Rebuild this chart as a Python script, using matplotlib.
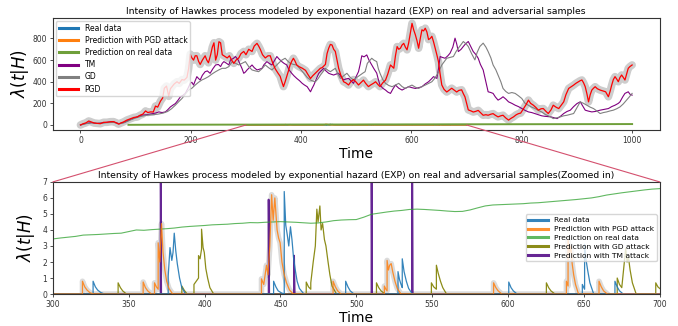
import matplotlib
matplotlib.use("Agg")
import matplotlib.pyplot as plt
from matplotlib.patches import ConnectionPatch

# ---------------- data: top panel (full sequence) ----------------
pgd_t = [0, 5, 10, 15, 20, 25, 30, 36, 42, 48, 54, 60, 65, 69, 74, 78, 84, 91, 97, 103, 108, 113, 118, 122, 127,
         132, 136, 140, 145, 149, 152, 156, 160, 163, 166, 170, 175, 179, 184, 188, 193, 196, 199, 202, 205, 208,
         211, 214, 217, 221, 226, 229, 232, 236, 239, 242, 245, 248, 251, 254, 257, 260, 263, 266, 270, 274, 278,
         282, 287, 291, 296, 300, 305, 308, 311, 315, 320, 323, 326, 330, 335, 340, 344, 348, 353, 358, 362, 365,
         368, 371, 374, 377, 380, 383, 386, 389, 392, 396, 402, 405, 408, 412, 417, 421, 426, 430, 435, 438, 441,
         444, 447, 450, 453, 456, 459, 462, 465, 468, 472, 477, 481, 486, 490, 495, 500, 504, 508, 513, 517, 522,
         526, 531, 535, 540, 543, 548, 553, 557, 562, 565, 568, 571, 574, 577, 580, 583, 586, 589, 592, 595, 598,
         601, 604, 607, 610, 613, 616, 619, 622, 625, 628, 631, 634, 637, 640, 643, 646, 649, 652, 655, 659, 664,
         668, 673, 677, 682, 686, 691, 694, 697, 700, 703, 708, 712, 716, 721, 725, 730, 735, 739, 744, 748, 752,
         757, 762, 766, 771, 776, 780, 785, 790, 794, 798, 803, 808, 812, 816, 821, 826, 830, 835, 839, 844, 848,
         853, 857, 862, 867, 871, 876, 880, 885, 890, 894, 898, 903, 906, 909, 912, 915, 918, 921, 924, 927, 930,
         933, 937, 942, 947, 952, 957, 960, 963, 966, 969, 972, 975, 978, 981, 984, 987, 990, 993, 996, 1000]
pgd_v = [0, 12, 20, 37, 28, 18, 15, 12, 25, 25, 30, 31, 20, 8, 20, 28, 45, 59, 70, 74, 90, 100, 130, 115, 121,
         120, 175, 165, 220, 250, 340, 360, 265, 335, 354, 380, 400, 385, 420, 415, 440, 520, 655, 620, 600, 640,
         640, 590, 560, 600, 640, 600, 575, 650, 720, 760, 600, 650, 770, 760, 650, 640, 630, 620, 640, 600, 570,
         600, 620, 660, 680, 650, 700, 690, 680, 730, 755, 730, 700, 650, 620, 640, 640, 580, 520, 480, 450, 400,
         355, 400, 450, 500, 555, 590, 617, 590, 555, 540, 525, 515, 505, 470, 430, 455, 480, 500, 525, 530, 545,
         560, 660, 710, 745, 740, 700, 680, 600, 525, 460, 400, 390, 370, 400, 420, 395, 370, 390, 415, 385, 355,
         370, 385, 400, 370, 355, 390, 415, 470, 555, 540, 525, 640, 725, 700, 710, 740, 755, 720, 695, 760, 850,
         940, 880, 835, 780, 710, 800, 880, 870, 895, 860, 790, 800, 820, 770, 710, 650, 585, 470, 370, 330, 305,
         320, 340, 325, 305, 320, 325, 290, 260, 200, 140, 130, 120, 125, 135, 115, 90, 95, 90, 100, 105, 90,
         75, 85, 90, 65, 45, 60, 75, 95, 105, 110, 150, 190, 230, 200, 183, 160, 137, 150, 152, 125, 106,
         140, 183, 165, 152, 180, 214, 280, 338, 355, 369, 385, 400, 410, 416, 390, 354, 290, 214, 280, 323, 340,
         354, 335, 323, 315, 307, 261, 310, 369, 420, 447, 425, 400, 440, 462, 440, 416, 470, 524, 540, 555]

tm_t = [0, 10, 20, 30, 40, 50, 60, 70, 80, 90, 100, 110, 120, 130, 136, 142, 148, 154, 158, 163, 168, 172, 177,
        181, 186, 190, 195, 199, 202, 205, 208, 211, 214, 217, 221, 226, 230, 235, 240, 245, 250, 254, 257, 260,
        265, 269, 272, 277, 281, 286, 290, 293, 296, 299, 302, 306, 311, 315, 320, 324, 329, 333, 338, 342, 347,
        351, 356, 360, 365, 369, 374, 378, 383, 387, 392, 397, 402, 406, 411, 414, 417, 420, 423, 427, 432, 436,
        441, 445, 450, 454, 459, 463, 468, 472, 477, 481, 486, 490, 495, 499, 504, 507, 510, 514, 519, 523, 528,
        532, 537, 540, 543, 548, 553, 557, 562, 566, 571, 577, 583, 589, 595, 601, 607, 613, 619, 625, 631, 636,
        640, 646, 649, 652, 656, 661, 666, 670, 675, 679, 682, 685, 690, 694, 698, 703, 708, 712, 717, 721, 725,
        730, 734, 739, 744, 748, 752, 757, 762, 766, 771, 776, 782, 788, 794, 800, 806, 812, 818, 824, 830, 836,
        842, 848, 853, 858, 864, 870, 876, 882, 888, 894, 900, 906, 910, 915, 921, 927, 933, 942, 950, 957, 963,
        969, 975, 978, 983, 987, 990, 993, 996, 1000]
tm_v = [0, 15, 22, 14, 20, 26, 28, 12, 25, 50, 70, 90, 95, 105, 110, 121, 115, 121, 140, 167, 185, 198, 230,
        260, 275, 292, 340, 385, 395, 369, 410, 447, 430, 416, 460, 493, 500, 478, 520, 555, 560, 540, 570, 586,
        570, 555, 602, 615, 633, 600, 555, 520, 478, 490, 509, 530, 555, 530, 509, 515, 524, 560, 586, 570, 555,
        590, 633, 610, 586, 570, 555, 510, 478, 455, 431, 410, 385, 370, 354, 330, 307, 340, 369, 420, 478, 500,
        524, 500, 478, 470, 462, 470, 478, 450, 416, 425, 431, 410, 385, 440, 493, 560, 640, 630, 648, 600, 555,
        520, 480, 420, 369, 340, 323, 305, 292, 330, 369, 340, 323, 340, 354, 345, 338, 345, 354, 380, 400, 425,
        447, 431, 520, 633, 625, 617, 640, 664, 720, 803, 750, 679, 700, 726, 750, 772, 720, 679, 650, 617, 560,
        509, 420, 307, 300, 292, 260, 230, 245, 261, 240, 214, 200, 183, 170, 152, 135, 121, 115, 105, 95, 85,
        80, 78, 75, 68, 59, 80, 106, 125, 137, 170, 198, 214, 180, 137, 128, 121, 125, 137, 145, 152, 170,
        183, 200, 214, 260, 292, 300, 307, 285, 276]

gd_t = [0, 10, 20, 30, 40, 50, 60, 70, 80, 90, 100, 110, 120, 130, 140, 150, 158, 165, 172, 178, 184, 190, 196,
        202, 208, 214, 220, 226, 232, 238, 245, 251, 257, 263, 269, 275, 281, 287, 293, 299, 305, 311, 317, 323,
        329, 335, 341, 347, 353, 359, 365, 371, 376, 380, 386, 392, 398, 405, 411, 417, 422, 426, 431, 435, 440,
        444, 449, 453, 458, 462, 467, 471, 477, 483, 489, 495, 501, 507, 512, 516, 520, 524, 528, 532, 537, 540,
        543, 548, 553, 559, 565, 571, 577, 583, 589, 595, 601, 607, 613, 619, 625, 631, 637, 642, 646, 651, 655,
        660, 664, 670, 676, 681, 685, 690, 694, 699, 703, 709, 715, 719, 724, 730, 735, 739, 744, 748, 753, 757,
        762, 766, 771, 776, 782, 788, 794, 800, 806, 812, 818, 824, 830, 836, 842, 848, 853, 857, 864, 870, 876,
        882, 888, 894, 900, 906, 912, 918, 924, 930, 936, 942, 948, 954, 960, 966, 972, 978, 984, 990, 995, 1000]
gd_v = [0, 12, 20, 15, 18, 22, 25, 10, 22, 45, 65, 80, 90, 95, 100, 110, 125, 150, 183, 215, 245, 285, 323,
        340, 369, 395, 416, 430, 447, 470, 493, 510, 524, 524, 540, 586, 570, 555, 570, 586, 540, 509, 500, 493,
        520, 555, 530, 509, 540, 571, 600, 617, 590, 571, 560, 555, 520, 478, 440, 416, 405, 400, 430, 462, 495,
        524, 505, 493, 510, 524, 470, 431, 455, 478, 440, 416, 440, 462, 480, 493, 570, 594, 617, 600, 586, 520,
        478, 420, 385, 365, 354, 370, 385, 355, 338, 355, 369, 350, 338, 355, 369, 385, 400, 430, 462, 510, 555,
        590, 617, 625, 633, 680, 710, 745, 772, 750, 726, 660, 602, 670, 726, 757, 720, 679, 620, 555, 510, 462,
        400, 338, 310, 292, 300, 292, 270, 245, 200, 183, 165, 152, 135, 121, 100, 85, 72, 59, 68, 75, 85,
        90, 98, 106, 160, 214, 200, 183, 165, 152, 130, 106, 115, 121, 130, 137, 150, 167, 195, 230, 260, 292]

# ---------------- data: zoomed panel (also drawn, flat near 0, on top) ----------------
real_t = [300, 326.5, 326.5, 328, 329.5, 331.5, 334,
          376, 376, 377.2, 378.4, 379.2, 380, 381, 382, 383.5, 385, 387.5,
          445.5, 445.5, 447, 448.5, 450.5, 452.5, 452.5, 453.5, 454.5, 455.5, 456.6, 457.6, 458.6, 459.6, 461, 462.5, 465.5,
          493, 493, 494.5, 496, 498.5,
          527.5, 527.5, 528.5, 529.5, 530.3, 530.3, 531.5, 533, 534.5, 537,
          600.5, 600.5, 602, 603.5, 606,
          649, 649, 650.5, 650.5, 651.5, 652.5, 654, 656.5,
          670.5, 670.5, 672, 673.5, 676, 700]
real_v = [0, 0, 0.8, 0.45, 0.25, 0.1, 0,
          0, 1.1, 2.9, 2.1, 2.6, 3.8, 2.7, 1.9, 1.0, 0.4, 0,
          0, 0.8, 0.45, 0.2, 0.08, 0, 6.4, 4.3, 3.7, 3.0, 4.2, 3.4, 2.3, 1.6, 0.8, 0.35, 0,
          0, 0.8, 0.45, 0.2, 0,
          0, 1.4, 0.9, 0.6, 0.4, 2.2, 1.4, 0.8, 0.35, 0,
          0, 0.75, 0.4, 0.2, 0,
          0, 0.6, 0.3, 3.1, 2.1, 1.5, 0.7, 0,
          0, 0.8, 0.45, 0.2, 0, 0]

pgdp_t = [300, 319.5, 319.5, 321, 322.5, 324.5, 327,
          359.5, 359.5, 361, 362.5, 365,
          367, 367, 368.2, 369.4, 369.4, 370.5, 371.6, 372.6, 373.8, 375, 376.5, 379,
          437.5, 437.5, 439, 440.8, 441.8, 443, 444.2, 445.2, 446.3, 447.8, 448.8, 449.8, 451, 452.5, 454, 456, 458.5,
          484.7, 484.7, 486.2, 487.7, 490,
          518.5, 518.5, 519.5, 520.3, 520.3, 521.2, 522, 523, 524, 525.5, 527, 529.5,
          590.5, 590.5, 592, 593.5, 596,
          638.5, 638.5, 639.6, 639.6, 640.7, 641.5, 642.3, 643.3, 644.5, 646.5,
          660, 660, 661.5, 663, 665.5, 700]
pgdp_v = [0, 0, 0.8, 0.45, 0.25, 0.08, 0,
          0, 0.75, 0.4, 0.2, 0,
          0, 0.7, 0.45, 0.3, 3.2, 2.0, 4.4, 2.6, 1.5, 0.8, 0.35, 0,
          0, 0.95, 0.6, 1.8, 1.2, 3.0, 6.2, 4.6, 6.0, 4.0, 3.5, 3.2, 2.0, 1.2, 0.7, 0.25, 0,
          0, 0.8, 0.45, 0.2, 0,
          0, 0.5, 0.3, 0.2, 2.1, 1.5, 1.8, 1.9, 1.4, 0.8, 0.35, 0,
          0, 0.7, 0.4, 0.2, 0,
          0, 0.8, 0.5, 3.4, 2.6, 3.0, 1.9, 1.2, 0.6, 0,
          0, 0.8, 0.45, 0.2, 0, 0]

gdp_t = [300, 343, 343, 344.5, 346, 348.5,
         385, 385, 386.5, 388.5,
         393, 393, 394.5, 396, 396, 397, 398, 398, 399, 399.8, 400.8, 402, 403.5, 406,
         467, 467, 468.5, 470, 470, 471.6, 473, 474, 474.8, 476, 476.8, 477.8, 479, 480, 481.4, 482.6, 484, 487,
         513.3, 513.3, 514.8, 516.3, 519,
         549.5, 549.5, 551, 552.8, 552.8, 554, 555.5, 557, 559.5,
         625.3, 625.3, 626.8, 628.3, 631,
         672, 672, 673.5, 675, 677.6, 678.5, 679.4, 680.5, 682, 684.5,
         697.4, 697.4, 698.8, 700]
gdp_v = [0, 0, 0.7, 0.4, 0.2, 0,
         0, 0.5, 0.25, 0,
         0, 0.6, 0.8, 1.0, 2.4, 2.2, 2.8, 4.05, 2.9, 2.6, 1.6, 1.0, 0.4, 0,
         0, 0.75, 0.45, 0.3, 0.7, 2.0, 3.0, 5.3, 4.5, 5.5, 4.0, 4.4, 3.4, 3.0, 2.0, 1.2, 0.5, 0,
         0, 0.7, 0.4, 0.2, 0,
         0, 0.7, 0.45, 0.3, 1.8, 1.3, 0.8, 0.4, 0,
         0, 0.7, 0.4, 0.2, 0,
         0, 1.0, 0.6, 0.4, 2.85, 2.0, 2.3, 1.5, 0.7, 0,
         0, 0.7, 0.45, 0.35]

tmp_t = [300, 371, 371, 371.4, 442.2, 442.2, 442.6, 459, 459, 459.4, 510, 510, 510.4, 536.8, 536.8, 537.2, 700]
tmp_v = [0, 0, 12, 0, 0, 5.9, 0, 0, 2.4, 0, 0, 12, 0, 0, 12, 0, 0]

green_t = [87, 120, 160, 200, 250] + list(range(300, 705, 5)) + [750, 800, 850, 900, 950, 1000]
green_v = [1.6, 2.1, 2.6, 2.9, 3.2,
           3.44, 3.50, 3.55, 3.60, 3.68, 3.70, 3.72, 3.75, 3.78, 3.80, 3.90, 4.00, 3.98, 4.02, 4.05, 4.08,
           4.12, 4.18, 4.22, 4.25, 4.28, 4.32, 4.34, 4.36, 4.40, 4.42, 4.46, 4.45, 4.48, 4.50, 4.52, 4.50,
           4.48, 4.45, 4.42, 4.44, 4.50, 4.58, 4.62, 4.64, 4.65, 4.80, 4.98, 5.05, 5.12, 5.18, 5.22, 5.28,
           5.30, 5.28, 5.25, 5.22, 5.18, 5.15, 5.16, 5.25, 5.38, 5.50, 5.56, 5.58, 5.60, 5.62, 5.64, 5.68,
           5.70, 5.74, 5.78, 5.82, 5.86, 5.90, 5.95, 6.00, 6.08, 6.18, 6.25, 6.32, 6.38, 6.44, 6.50, 6.55, 6.58,
           6.9, 7.2, 7.5, 7.9, 8.2, 8.6]

top_title = "Intensity of Hawkes process modeled by exponential hazard (EXP) on real and adversarial samples"
bot_title = "Intensity of Hawkes process modeled by exponential hazard (EXP) on real and adversarial samples(Zoomed in)"
top_labels = ["Real data", "Prediction with PGD attack", "Prediction on real data", "TM", "GD", "PGD"]
bot_labels = ["Real data", "Prediction with PGD attack", "Prediction on real data",
              "Prediction with GD attack", "Prediction with TM attack"]

# ---------------- figure ----------------
fig = plt.figure(figsize=(6.78, 3.26), dpi=100)
ax1 = fig.add_axes([0.078, 0.601, 0.895, 0.344])
ax2 = fig.add_axes([0.078, 0.098, 0.895, 0.344])

HALO = '#cdcdcd'

# top panel
ax1.plot(real_t, real_v, color='C0', lw=1.0, label=top_labels[0], zorder=2)
ax1.plot(pgdp_t, pgdp_v, color='C1', lw=1.0, label=top_labels[1], zorder=2)
ax1.plot(green_t, green_v, color='#6f9f3a', lw=1.4, label=top_labels[2], zorder=2.5)
ax1.plot(pgd_t, pgd_v, color=HALO, lw=5.5, solid_capstyle='round', solid_joinstyle='round', zorder=1)
ax1.plot(tm_t, tm_v, color='purple', lw=0.8, label=top_labels[3], zorder=2)
ax1.plot(gd_t, gd_v, color='gray', lw=0.8, label=top_labels[4], zorder=2)
ax1.plot(pgd_t, pgd_v, color='red', lw=0.9, label=top_labels[5], zorder=2.2)
ax1.set_xlim(-50, 1050)
ax1.set_ylim(-47, 990)
ax1.set_xticks([0, 200, 400, 600, 800, 1000])
ax1.set_yticks([0, 200, 400, 600, 800])
ax1.set_title(top_title, fontsize=6.7, pad=3)
ax1.set_xlabel("Time", fontsize=10, labelpad=2)
ax1.set_ylabel(r"$\lambda(t|H)$", fontsize=12, labelpad=1)
leg1 = ax1.legend(loc='upper left', fontsize=5.5, handlelength=2.6, borderaxespad=0.4,
                  labelspacing=0.42, borderpad=0.35)
for ln in leg1.get_lines():
    ln.set_linewidth(2.2)

# halo only around the spikes of the PGD prediction (not along the zero baseline)
n = len(pgdp_v)
halo_v = [v if (v > 0 or (i > 0 and pgdp_v[i - 1] > 0) or (i + 1 < n and pgdp_v[i + 1] > 0)) else float('nan')
          for i, v in enumerate(pgdp_v)]

# zoomed panel
ax2.plot(real_t, real_v, color='C0', lw=0.9, alpha=0.9, label=bot_labels[0], zorder=2)
ax2.plot(pgdp_t, halo_v, color=HALO, lw=4.0, alpha=0.7, solid_joinstyle='round', zorder=1)
ax2.plot(pgdp_t, pgdp_v, color='C1', lw=0.9, alpha=0.85, label=bot_labels[1], zorder=2.2)
ax2.plot(green_t, green_v, color='C2', lw=0.8, alpha=0.75, label=bot_labels[2], zorder=2)
ax2.plot(gdp_t, gdp_v, color='olive', lw=0.9, alpha=0.9, label=bot_labels[3], zorder=1.9)
ax2.plot(tmp_t, tmp_v, color='indigo', lw=1.3, alpha=0.85, label=bot_labels[4], zorder=1.8)
ax2.set_xlim(300, 700)
ax2.set_ylim(0, 7)
ax2.set_xticks(range(300, 701, 50))
ax2.set_yticks(range(0, 8))
ax2.set_title(bot_title, fontsize=6.7, pad=3)
ax2.set_xlabel("Time", fontsize=10, labelpad=2)
ax2.set_ylabel(r"$\lambda(t|H)$", fontsize=12, labelpad=4)
leg2 = ax2.legend(loc='center right', fontsize=5.4, handlelength=2.6, borderaxespad=0.4,
                  labelspacing=0.35, borderpad=0.35)
for ln in leg2.get_lines():
    ln.set_linewidth(2.2)

for ax in (ax1, ax2):
    ax.tick_params(labelsize=5.5, length=2.5, width=0.6, pad=1.5, colors='#333333')
    for s in ax.spines.values():
        s.set_linewidth(0.8)
        s.set_color('#333333')

# zoom connection lines
for xv in (300, 700):
    con = ConnectionPatch(xyA=(xv, 0), coordsA=ax1.transData, xyB=(xv, 7), coordsB=ax2.transData,
                          color='#d4506e', lw=0.8)
    fig.add_artist(con)

fig.savefig("out.png", dpi=100)
